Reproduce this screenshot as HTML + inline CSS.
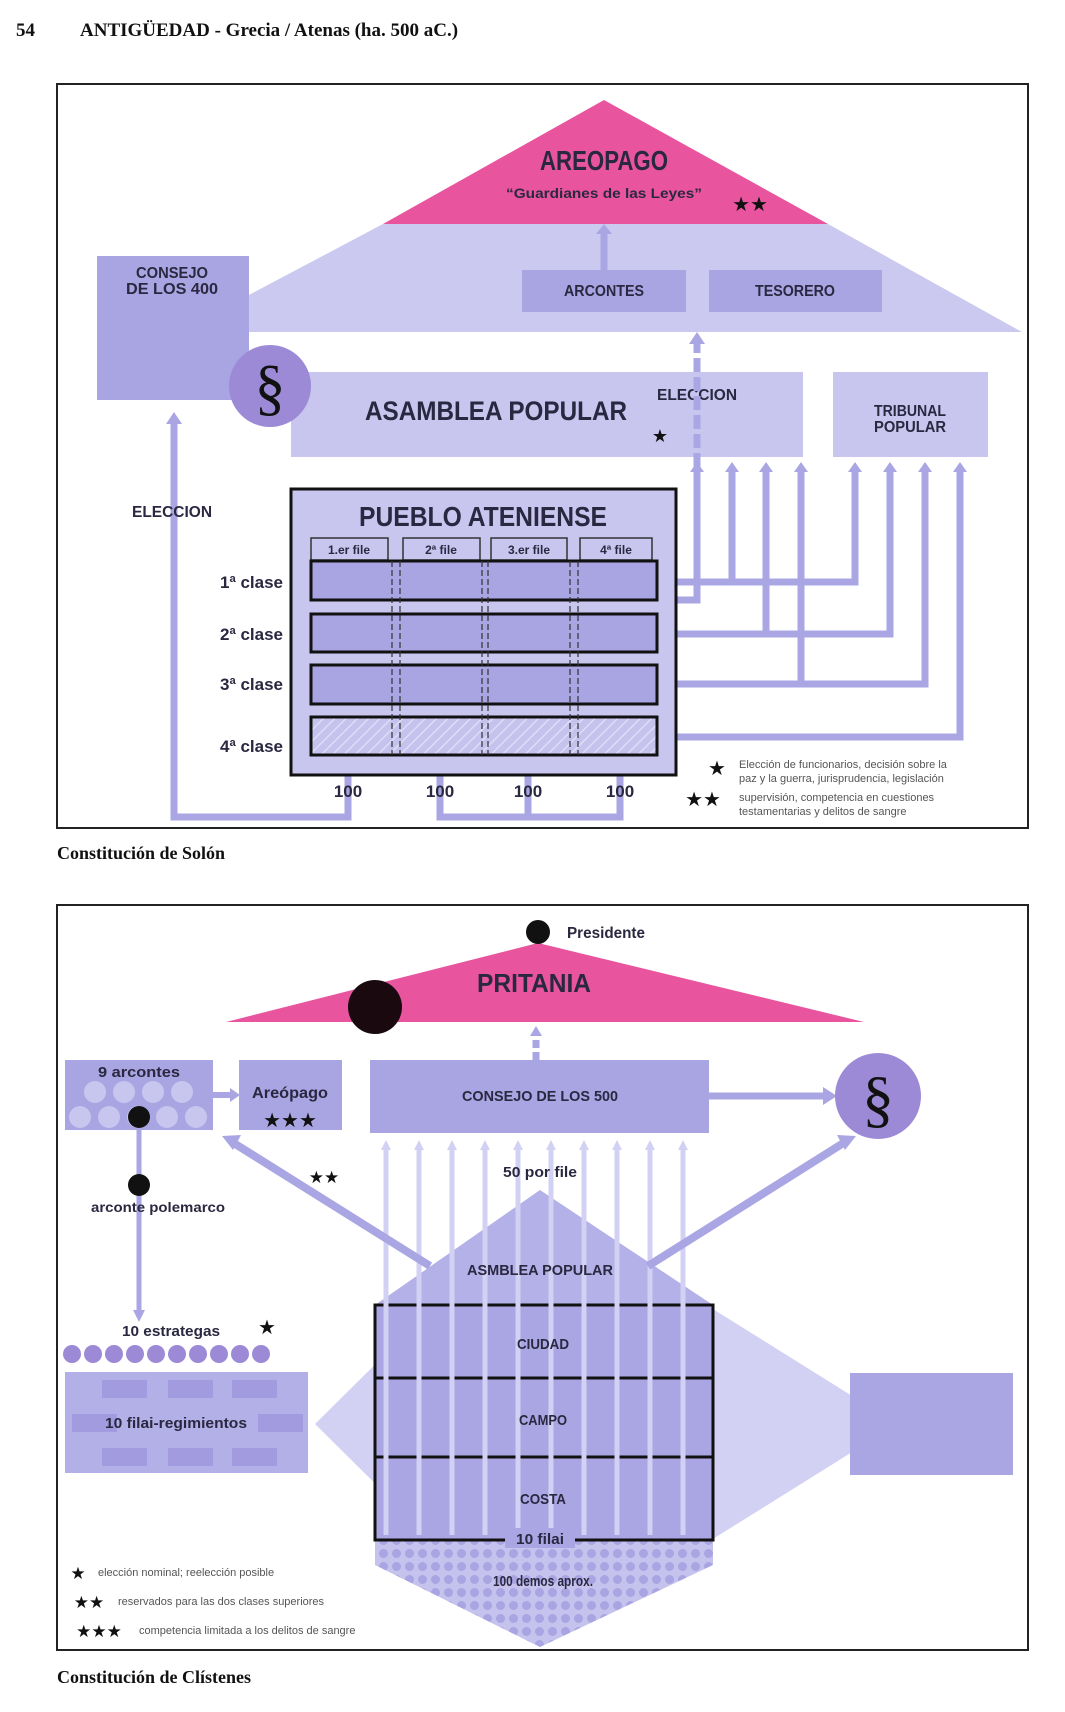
<!DOCTYPE html>
<html><head><meta charset="utf-8"><style>
html,body{margin:0;padding:0;background:#fff}
svg{display:block}
.c{font-family:"Liberation Sans Narrow","Liberation Sans",sans-serif;font-weight:bold;fill:#2a2840}
.s{font-family:"Liberation Serif",serif;font-weight:bold;fill:#111}
.l{font-family:"Liberation Sans",sans-serif;fill:#555;font-size:11px}
</style></head><body>
<svg width="1065" height="1712" viewBox="0 0 1065 1712" xmlns="http://www.w3.org/2000/svg">
<defs>
<pattern id="hatch" width="8" height="8" patternUnits="userSpaceOnUse" patternTransform="rotate(45)"><rect width="8" height="8" fill="#c5c2ee"/><line x1="0" y1="0" x2="0" y2="8" stroke="#dedcf6" stroke-width="3"/></pattern>
<pattern id="dots" width="13" height="13" patternUnits="userSpaceOnUse"><rect width="13" height="13" fill="#c5c2ee"/><circle cx="6.5" cy="6.5" r="4.5" fill="#a9a4e2"/></pattern>
</defs>
<text x="16" y="36" class="s" font-size="19">54</text>
<text x="80" y="36" class="s" font-size="19">ANTIGÜEDAD - Grecia / Atenas (ha. 500 aC.)</text>

<!-- TOP FRAME -->
<rect x="57" y="84" width="971" height="744" fill="#fff" stroke="#222" stroke-width="2"/>
<polygon points="383,224 828,224 1022,332 179,332" fill="#cbc9f0"/>
<polygon points="604,100 828,224 383,224" fill="#e8559e"/>
<text x="604" y="170" class="c" font-size="28" text-anchor="middle" textLength="128" lengthAdjust="spacingAndGlyphs">AREOPAGO</text>
<text x="604" y="198" class="c" font-size="14" text-anchor="middle" textLength="196" lengthAdjust="spacingAndGlyphs">“Guardianes de las Leyes”</text>
<text x="750" y="211" font-size="20" text-anchor="middle" fill="#111">★★</text>
<rect x="97" y="256" width="152" height="144" fill="#a9a4e2"/>
<text x="172" y="278" class="c" font-size="16" text-anchor="middle" textLength="72" lengthAdjust="spacingAndGlyphs">CONSEJO</text>
<text x="172" y="294" class="c" font-size="16" text-anchor="middle" textLength="92" lengthAdjust="spacingAndGlyphs">DE LOS 400</text>
<rect x="522" y="270" width="164" height="42" fill="#a9a4e2"/>
<rect x="709" y="270" width="173" height="42" fill="#a9a4e2"/>
<text x="604" y="296" class="c" font-size="16" text-anchor="middle" textLength="80" lengthAdjust="spacingAndGlyphs">ARCONTES</text>
<text x="795" y="296" class="c" font-size="16" text-anchor="middle" textLength="80" lengthAdjust="spacingAndGlyphs">TESORERO</text>
<line x1="604" y1="270" x2="604" y2="232" stroke="#aaa6e4" stroke-width="7"/>
<path d="M596,234 L604,224 L612,234z" fill="#aaa6e4"/>
<rect x="291" y="372" width="512" height="85" fill="#c8c5ef"/>
<circle cx="270" cy="386" r="41" fill="#9c8ad6"/>
<text x="270" y="408" font-family="Liberation Serif,serif" font-size="62" text-anchor="middle" fill="#111">§</text>
<text x="496" y="420" class="c" font-size="27" text-anchor="middle" textLength="262" lengthAdjust="spacingAndGlyphs">ASAMBLEA POPULAR</text>
<text x="697" y="400" class="c" font-size="16" text-anchor="middle" textLength="80" lengthAdjust="spacingAndGlyphs">ELECCION</text>
<text x="660" y="442" font-size="18" text-anchor="middle" fill="#111">★</text>
<line x1="697" y1="600" x2="697" y2="342" stroke="#aaa6e4" stroke-width="7" stroke-dasharray="14,5"/>
<path d="M689,344 L697,332 L705,344z" fill="#aaa6e4"/>
<rect x="833" y="372" width="155" height="85" fill="#c8c5ef"/>
<text x="910" y="416" class="c" font-size="16" text-anchor="middle" textLength="72" lengthAdjust="spacingAndGlyphs">TRIBUNAL</text>
<text x="910" y="432" class="c" font-size="16" text-anchor="middle" textLength="72" lengthAdjust="spacingAndGlyphs">POPULAR</text>
<g fill="none" stroke="#aaa6e4" stroke-width="7">
<polyline points="657,582 732,582 732,470"/>
<polyline points="657,634 766,634 766,470"/>
<polyline points="657,684 801,684 801,470"/>
<polyline points="657,582 855,582 855,470"/>
<polyline points="657,634 890,634 890,470"/>
<polyline points="657,684 925,684 925,470"/>
<polyline points="657,737 960,737 960,470"/>
<polyline points="657,600 697,600 697,470"/>
<polyline points="348,775 348,817 174,817 174,422"/>
<polyline points="440,775 440,817 620,817 620,775"/>
<line x1="528" y1="775" x2="528" y2="817"/>
</g>
<g fill="#aaa6e4">
<path d="M690,472 L697,462 L704,472z"/><path d="M725,472 L732,462 L739,472z"/><path d="M759,472 L766,462 L773,472z"/><path d="M794,472 L801,462 L808,472z"/>
<path d="M848,472 L855,462 L862,472z"/><path d="M883,472 L890,462 L897,472z"/><path d="M918,472 L925,462 L932,472z"/><path d="M953,472 L960,462 L967,472z"/>
<path d="M166,424 L174,412 L182,424z"/>
</g>
<text x="172" y="517" class="c" font-size="16" text-anchor="middle" textLength="80" lengthAdjust="spacingAndGlyphs">ELECCION</text>
<rect x="291" y="489" width="385" height="286" fill="#c8c5ef" stroke="#111" stroke-width="3"/>
<text x="483" y="526" class="c" font-size="28" text-anchor="middle" textLength="248" lengthAdjust="spacingAndGlyphs">PUEBLO ATENIENSE</text>
<g fill="#c8c5ef" stroke="#333" stroke-width="1.5">
<rect x="311" y="538" width="77" height="22"/><rect x="403" y="538" width="77" height="22"/><rect x="491" y="538" width="76" height="22"/><rect x="580" y="538" width="72" height="22"/>
</g>
<text x="349" y="554" class="c" font-size="12" text-anchor="middle">1.er file</text>
<text x="441" y="554" class="c" font-size="12" text-anchor="middle">2ª file</text>
<text x="529" y="554" class="c" font-size="12" text-anchor="middle">3.er file</text>
<text x="616" y="554" class="c" font-size="12" text-anchor="middle">4ª file</text>
<g stroke="#111" stroke-width="3">
<rect x="311" y="561" width="346" height="39" fill="#a9a4e2"/>
<rect x="311" y="614" width="346" height="38" fill="#a9a4e2"/>
<rect x="311" y="665" width="346" height="39" fill="#a9a4e2"/>
<rect x="311" y="717" width="346" height="38" fill="url(#hatch)"/>
</g>
<g stroke="#333" stroke-width="1.2" stroke-dasharray="6,3">
<line x1="392" y1="561" x2="392" y2="755"/><line x1="400" y1="561" x2="400" y2="755"/>
<line x1="482" y1="561" x2="482" y2="755"/><line x1="488" y1="561" x2="488" y2="755"/>
<line x1="570" y1="561" x2="570" y2="755"/><line x1="578" y1="561" x2="578" y2="755"/>
</g>
<g class="c" font-size="17" text-anchor="end">
<text x="283" y="588">1ª  clase</text><text x="283" y="640">2ª clase</text><text x="283" y="690">3ª clase</text><text x="283" y="752">4ª clase</text>
</g>
<g class="c" font-size="17" text-anchor="middle">
<text x="348" y="797">100</text><text x="440" y="797">100</text><text x="528" y="797">100</text><text x="620" y="797">100</text>
</g>
<text x="717" y="775" font-size="20" text-anchor="middle" fill="#111">★</text>
<text x="703" y="806" font-size="20" text-anchor="middle" fill="#111">★★</text>
<text x="739" y="768" class="l">Elección de funcionarios, decisión sobre la</text>
<text x="739" y="782" class="l">paz y la guerra, jurisprudencia, legislación</text>
<text x="739" y="801" class="l">supervisión, competencia en cuestiones</text>
<text x="739" y="815" class="l">testamentarias y delitos de sangre</text>
<text x="57" y="859" class="s" font-size="18">Constitución de Solón</text>

<!-- BOTTOM FRAME -->
<rect x="57" y="905" width="971" height="745" fill="#fff" stroke="#222" stroke-width="2"/>
<polygon points="540,1201 897,1424 540,1647 315,1424" fill="#d3d1f3"/>
<polygon points="375,1540 713,1540 713,1565 540,1647 375,1565" fill="url(#dots)"/>
<polygon points="540,1190 713,1305 375,1305" fill="#b4b0e8"/>
<rect x="375" y="1305" width="338" height="235" fill="#aaa5e3" stroke="#111" stroke-width="3"/>
<line x1="375" y1="1378" x2="713" y2="1378" stroke="#111" stroke-width="3"/>
<line x1="375" y1="1457" x2="713" y2="1457" stroke="#111" stroke-width="3"/>
<g stroke="#d3d1f3" stroke-width="5">
<line x1="386" y1="1148" x2="386" y2="1535"/><line x1="419" y1="1148" x2="419" y2="1535"/><line x1="452" y1="1148" x2="452" y2="1535"/><line x1="485" y1="1148" x2="485" y2="1535"/><line x1="518" y1="1148" x2="518" y2="1535"/><line x1="551" y1="1148" x2="551" y2="1535"/><line x1="584" y1="1148" x2="584" y2="1535"/><line x1="617" y1="1148" x2="617" y2="1535"/><line x1="650" y1="1148" x2="650" y2="1535"/><line x1="683" y1="1148" x2="683" y2="1535"/>
</g>
<g fill="#d3d1f3">
<path d="M381,1150 L386,1140 L391,1150z"/><path d="M414,1150 L419,1140 L424,1150z"/><path d="M447,1150 L452,1140 L457,1150z"/><path d="M480,1150 L485,1140 L490,1150z"/><path d="M513,1150 L518,1140 L523,1150z"/><path d="M546,1150 L551,1140 L556,1150z"/><path d="M579,1150 L584,1140 L589,1150z"/><path d="M612,1150 L617,1140 L622,1150z"/><path d="M645,1150 L650,1140 L655,1150z"/><path d="M678,1150 L683,1140 L688,1150z"/>
</g>
<rect x="505" y="1528" width="70" height="20" fill="#aaa5e3"/>
<line x1="375" y1="1540" x2="505" y2="1540" stroke="#111" stroke-width="3"/>
<line x1="575" y1="1540" x2="713" y2="1540" stroke="#111" stroke-width="3"/>
<text x="540" y="1544" class="c" font-size="15" text-anchor="middle" textLength="48" lengthAdjust="spacingAndGlyphs">10 filai</text>
<text x="543" y="1586" class="c" font-size="15" text-anchor="middle" textLength="100" lengthAdjust="spacingAndGlyphs">100 demos aprox.</text>
<text x="540" y="1275" class="c" font-size="15" text-anchor="middle" textLength="146" lengthAdjust="spacingAndGlyphs">ASMBLEA POPULAR</text>
<text x="543" y="1349" class="c" font-size="15" text-anchor="middle" textLength="52" lengthAdjust="spacingAndGlyphs">CIUDAD</text>
<text x="543" y="1425" class="c" font-size="15" text-anchor="middle" textLength="48" lengthAdjust="spacingAndGlyphs">CAMPO</text>
<text x="543" y="1504" class="c" font-size="15" text-anchor="middle" textLength="46" lengthAdjust="spacingAndGlyphs">COSTA</text>
<text x="540" y="1177" class="c" font-size="15" text-anchor="middle" textLength="74" lengthAdjust="spacingAndGlyphs">50 por file</text>
<polygon points="538,943 864,1022 226,1022" fill="#e8559e"/>
<circle cx="538" cy="932" r="12" fill="#111"/>
<text x="567" y="938" class="c" font-size="16" textLength="78" lengthAdjust="spacingAndGlyphs">Presidente</text>
<circle cx="375" cy="1007" r="27" fill="#1a0a10"/>
<text x="534" y="992" class="c" font-size="26" text-anchor="middle" textLength="114" lengthAdjust="spacingAndGlyphs">PRITANIA</text>
<line x1="536" y1="1060" x2="536" y2="1034" stroke="#aaa6e4" stroke-width="7" stroke-dasharray="8,4"/>
<path d="M530,1036 L536,1026 L542,1036z" fill="#aaa6e4"/>
<rect x="65" y="1060" width="148" height="70" fill="#a9a4e2"/>
<g fill="#c8c5ef"><circle cx="95" cy="1092" r="11"/><circle cx="124" cy="1092" r="11"/><circle cx="153" cy="1092" r="11"/><circle cx="182" cy="1092" r="11"/><circle cx="80" cy="1117" r="11"/><circle cx="109" cy="1117" r="11"/><circle cx="138" cy="1117" r="11"/><circle cx="167" cy="1117" r="11"/><circle cx="196" cy="1117" r="11"/></g>
<text x="139" y="1077" class="c" font-size="15" text-anchor="middle" textLength="82" lengthAdjust="spacingAndGlyphs">9 arcontes</text>
<line x1="213" y1="1095" x2="232" y2="1095" stroke="#aaa6e4" stroke-width="6"/>
<path d="M230,1088 L240,1095 L230,1102z" fill="#aaa6e4"/>
<rect x="239" y="1060" width="103" height="70" fill="#a9a4e2"/>
<text x="290" y="1098" class="c" font-size="16" text-anchor="middle" textLength="76" lengthAdjust="spacingAndGlyphs">Areópago</text>
<text x="290" y="1127" font-size="20" text-anchor="middle" fill="#111">★★★</text>
<rect x="370" y="1060" width="339" height="73" fill="#a9a4e2"/>
<text x="540" y="1101" class="c" font-size="15" text-anchor="middle" textLength="156" lengthAdjust="spacingAndGlyphs">CONSEJO DE LOS 500</text>
<line x1="709" y1="1096" x2="825" y2="1096" stroke="#aaa6e4" stroke-width="7"/>
<path d="M823,1087 L837,1096 L823,1105z" fill="#aaa6e4"/>
<circle cx="878" cy="1096" r="43" fill="#9c8ad6"/>
<text x="878" y="1120" font-family="Liberation Serif,serif" font-size="64" text-anchor="middle" fill="#111">§</text>
<line x1="430" y1="1266" x2="232" y2="1142" stroke="#aaa6e4" stroke-width="8"/>
<path d="M222,1136 L241,1135 L233,1150z" fill="#aaa6e4"/>
<line x1="648" y1="1266" x2="845" y2="1142" stroke="#aaa6e4" stroke-width="8"/>
<path d="M856,1136 L837,1135 L845,1150z" fill="#aaa6e4"/>
<text x="324" y="1183" font-size="17" text-anchor="middle" fill="#111">★★</text>
<line x1="139" y1="1117" x2="139" y2="1312" stroke="#aaa6e4" stroke-width="5"/>
<path d="M133,1310 L139,1322 L145,1310z" fill="#aaa6e4"/>
<circle cx="139" cy="1117" r="11" fill="#111"/>
<circle cx="139" cy="1185" r="11" fill="#111"/>
<text x="158" y="1212" class="c" font-size="14" text-anchor="middle" textLength="134" lengthAdjust="spacingAndGlyphs">arconte polemarco</text>
<text x="171" y="1336" class="c" font-size="15" text-anchor="middle" textLength="98" lengthAdjust="spacingAndGlyphs">10 estrategas</text>
<text x="267" y="1334" font-size="20" text-anchor="middle" fill="#111">★</text>
<g fill="#9c8ad6"><circle cx="72" cy="1354" r="9"/><circle cx="93" cy="1354" r="9"/><circle cx="114" cy="1354" r="9"/><circle cx="135" cy="1354" r="9"/><circle cx="156" cy="1354" r="9"/><circle cx="177" cy="1354" r="9"/><circle cx="198" cy="1354" r="9"/><circle cx="219" cy="1354" r="9"/><circle cx="240" cy="1354" r="9"/><circle cx="261" cy="1354" r="9"/></g>
<rect x="65" y="1372" width="243" height="101" fill="#b3afe7"/>
<g fill="#a29be0"><rect x="102" y="1380" width="45" height="18"/><rect x="168" y="1380" width="45" height="18"/><rect x="232" y="1380" width="45" height="18"/><rect x="72" y="1414" width="45" height="18"/><rect x="258" y="1414" width="45" height="18"/><rect x="102" y="1448" width="45" height="18"/><rect x="168" y="1448" width="45" height="18"/><rect x="232" y="1448" width="45" height="18"/></g>
<text x="176" y="1428" class="c" font-size="15" text-anchor="middle" textLength="142" lengthAdjust="spacingAndGlyphs">10 filai-regimientos</text>
<rect x="850" y="1373" width="163" height="102" fill="#aaa5e3"/>
<text x="78" y="1579" font-size="17" text-anchor="middle" fill="#111">★</text>
<text x="89" y="1608" font-size="17" text-anchor="middle" fill="#111">★★</text>
<text x="99" y="1637" font-size="17" text-anchor="middle" fill="#111">★★★</text>
<text x="98" y="1576" class="l" font-size="12">elección nominal; reelección posible</text>
<text x="118" y="1605" class="l" font-size="12">reservados para las dos clases superiores</text>
<text x="139" y="1634" class="l" font-size="12">competencia limitada a los delitos de sangre</text>
<text x="57" y="1683" class="s" font-size="18">Constitución de Clístenes</text>
</svg>
</body></html>
